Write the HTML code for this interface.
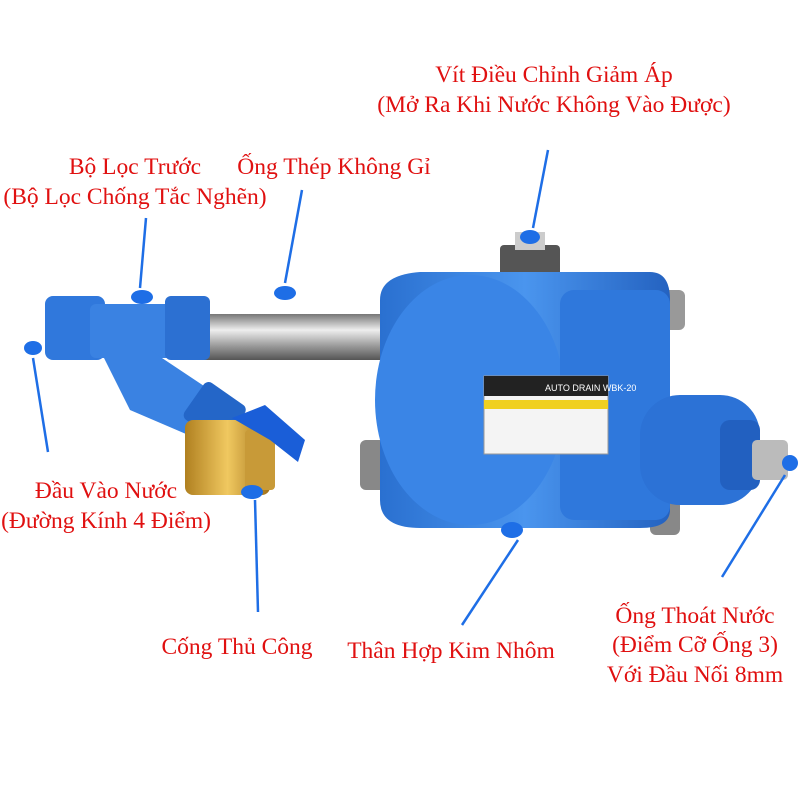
<!DOCTYPE html>
<html><head><meta charset="utf-8"><style>
body{margin:0;background:#fff}
svg{display:block}
text{font-family:"Liberation Serif",serif;font-size:23.5px;fill:#e01010}
</style></head><body>
<svg width="800" height="800" viewBox="0 0 800 800">
<defs>
<linearGradient id="pipe" x1="0" y1="0" x2="0" y2="1"><stop offset="0" stop-color="#777"/><stop offset=".35" stop-color="#eee"/><stop offset=".7" stop-color="#999"/><stop offset="1" stop-color="#555"/></linearGradient>
<linearGradient id="brass" x1="0" y1="0" x2="1" y2="0"><stop offset="0" stop-color="#b08020"/><stop offset=".5" stop-color="#f0c860"/><stop offset="1" stop-color="#a07018"/></linearGradient>
<linearGradient id="blue" x1="0" y1="0" x2="1" y2="0"><stop offset="0" stop-color="#2a70d0"/><stop offset=".5" stop-color="#4a95ee"/><stop offset="1" stop-color="#2462c0"/></linearGradient>
</defs>
<rect x="200" y="314" width="185" height="46" fill="url(#pipe)"/>
<rect x="360" y="440" width="30" height="50" rx="6" fill="#888"/>
<rect x="655" y="290" width="30" height="40" rx="6" fill="#999"/>
<rect x="650" y="500" width="30" height="35" rx="6" fill="#888"/>
<rect x="500" y="245" width="60" height="35" rx="4" fill="#555"/>
<rect x="515" y="232" width="30" height="18" fill="#ccc"/>
<path d="M380 300 Q380 275 420 272 L650 272 Q670 272 670 300 L670 510 Q670 528 640 528 L420 528 Q380 528 380 500 Z" fill="url(#blue)"/>
<ellipse cx="470" cy="400" rx="95" ry="125" fill="#3a85e6"/>
<rect x="560" y="290" width="110" height="230" rx="14" fill="#2f78dc"/>
<rect x="484" y="376" width="124" height="78" fill="#f4f4f4" stroke="#999"/>
<rect x="484" y="376" width="124" height="20" fill="#222"/>
<text x="545" y="391" style="font-size:9px;fill:#fff;font-family:'Liberation Sans'">AUTO DRAIN   WBK-20</text>
<rect x="484" y="400" width="124" height="9" fill="#f0d020"/>
<rect x="640" y="395" width="120" height="110" rx="40" fill="#2c72d6"/>
<rect x="720" y="420" width="40" height="70" rx="10" fill="#2260c0"/>
<rect x="752" y="440" width="36" height="40" rx="5" fill="#bbb"/>
<rect x="45" y="296" width="60" height="64" rx="8" fill="#3078dc"/>
<rect x="90" y="304" width="120" height="54" rx="6" fill="#3a82e2"/>
<rect x="165" y="296" width="45" height="64" rx="6" fill="#2c70d2"/>
<path d="M95 340 L150 350 L225 400 L200 440 L130 410 Z" fill="#3a82e2"/>
<rect x="190" y="390" width="50" height="45" rx="6" transform="rotate(35 215 412)" fill="#2466c8"/>
<rect x="185" y="420" width="85" height="75" rx="8" fill="url(#brass)"/>
<rect x="245" y="430" width="30" height="60" rx="4" fill="#c89a38"/>
<path d="M232 418 L265 405 L305 440 L298 462 L270 440 Z" fill="#1a5ed8"/>
<g fill="#1e6ee6">
<ellipse cx="142" cy="297" rx="11" ry="7"/><ellipse cx="285" cy="293" rx="11" ry="7"/>
<ellipse cx="530" cy="237" rx="10" ry="7"/><ellipse cx="33" cy="348" rx="9" ry="7"/>
<ellipse cx="512" cy="530" rx="11" ry="8"/><ellipse cx="252" cy="492" rx="11" ry="7"/>
<ellipse cx="790" cy="463" rx="8" ry="8"/>
</g>
<g stroke="#1e6ee6" stroke-width="2.5" fill="none">
<line x1="146" y1="218" x2="140" y2="288"/><line x1="302" y1="190" x2="285" y2="283"/>
<line x1="548" y1="150" x2="533" y2="228"/><line x1="33" y1="358" x2="48" y2="452"/>
<line x1="518" y1="540" x2="462" y2="625"/><line x1="255" y1="500" x2="258" y2="612"/>
<line x1="785" y1="475" x2="722" y2="577"/>
</g>
<g text-anchor="middle">
<text x="554" y="82">Vít Điều Chỉnh Giảm Áp</text>
<text x="554" y="112">(Mở Ra Khi Nước Không Vào Được)</text>
<text x="135" y="174">Bộ Lọc Trước</text>
<text x="135" y="204">(Bộ Lọc Chống Tắc Nghẽn)</text>
<text x="334" y="174">Ống Thép Không Gỉ</text>
<text x="106" y="498">Đầu Vào Nước</text>
<text x="106" y="528">(Đường Kính 4 Điểm)</text>
<text x="237" y="654">Cống Thủ Công</text>
<text x="451" y="658">Thân Hợp Kim Nhôm</text>
<text x="695" y="623">Ống Thoát Nước</text>
<text x="695" y="652">(Điểm Cỡ Ống 3)</text>
<text x="695" y="682">Với Đầu Nối 8mm</text>
</g>
</svg>
</body></html>
